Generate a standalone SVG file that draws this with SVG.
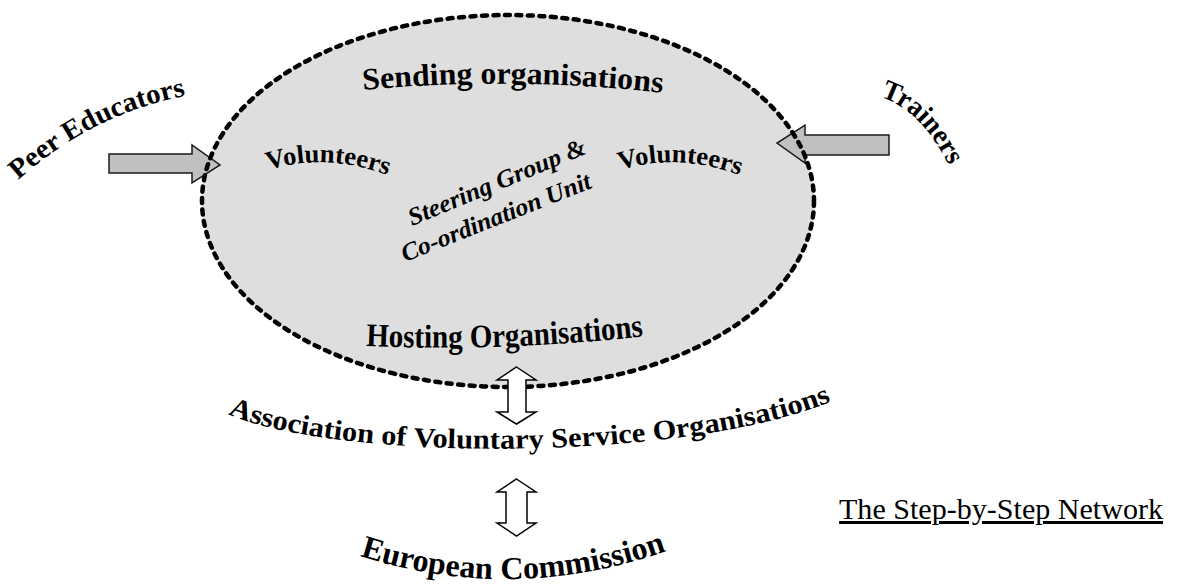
<svg xmlns="http://www.w3.org/2000/svg" xmlns:xlink="http://www.w3.org/1999/xlink" width="1178" height="587" viewBox="0 0 1178 587">
<style>
.wa{font-family:"Liberation Serif","DejaVu Serif",serif;font-weight:bold;fill:#000}
.it{font-family:"Liberation Serif","DejaVu Serif",serif;font-weight:bold;font-style:italic;fill:#000}
.blk{fill:#C0C0C0;stroke:#1a1a1a;stroke-width:1.5;stroke-linejoin:miter}
.dbl{fill:#fff;stroke:#000;stroke-width:1.5}
.title{font-family:"Liberation Serif","Times New Roman",serif;font-size:30px;fill:#000;text-decoration:underline}
</style>
<defs>
<path id="pPeer" d="M 18,180 Q 95,112 190,95"/>
<path id="pTrain" d="M 880,97 Q 922,110 950,168"/>
<path id="pSend" d="M 363,90 Q 513,76 665,93"/>
<path id="pVolL" d="M 268,170 Q 326,152 390,176"/>
<path id="pVolR" d="M 620,170 Q 678,152 742,176"/>
<path id="pHost" d="M 366,346 Q 505,352 646,336"/>
<path id="pAssoc" d="M 228,414 C 330,460 680,465 835,400"/>
<path id="pEC" d="M 360,556 Q 517,606 675,548"/>
</defs>

<g id="network">
<ellipse cx="508" cy="201" rx="306" ry="186" fill="#DEDEDE"/>
</g>

<g id="connectors">
<polygon class="blk" points="109,154 192,154 192,145 220,165 192,183 192,173 109,173"/>
<polygon class="blk" points="889,135 805,135 805,125 777,143 805,163 805,155 889,155"/>
<ellipse cx="508" cy="201" rx="306" ry="186" fill="none" stroke="#000" stroke-width="4.5" stroke-dasharray="5 6.5" stroke-linecap="round"/>
<polygon class="dbl" points="516.5,367 536,380 526,380 526,412 536,412 516.5,424 497,412 508,412 508,380 497,380"/>
<polygon class="dbl" points="516.5,479 536,492 527,492 527,523 536,523 516.5,536 497,523 506,523 506,492 497,492"/>
</g>

<g id="peer-educators">
<text class="wa" font-size="28"><textPath xlink:href="#pPeer" href="#pPeer" textLength="190" lengthAdjust="spacingAndGlyphs">Peer Educators</textPath></text>
</g>
<g id="trainers">
<text class="wa" font-size="28"><textPath xlink:href="#pTrain" href="#pTrain" textLength="100" lengthAdjust="spacingAndGlyphs">Trainers</textPath></text>
</g>
<g id="sending">
<text class="wa" font-size="31"><textPath xlink:href="#pSend" href="#pSend" textLength="300" lengthAdjust="spacingAndGlyphs">Sending organisations</textPath></text>
</g>
<g id="volunteers-left">
<text class="wa" font-size="26"><textPath xlink:href="#pVolL" href="#pVolL" textLength="122" lengthAdjust="spacingAndGlyphs">Volunteers</textPath></text>
</g>
<g id="volunteers-right">
<text class="wa" font-size="26"><textPath xlink:href="#pVolR" href="#pVolR" textLength="122" lengthAdjust="spacingAndGlyphs">Volunteers</textPath></text>
</g>
<g id="steering">
<text class="it" font-size="25" transform="translate(412,226) rotate(-22.5)" textLength="190" lengthAdjust="spacingAndGlyphs">Steering Group &amp;</text>
<text class="it" font-size="25" transform="translate(405,262) rotate(-21.6)" textLength="202" lengthAdjust="spacingAndGlyphs">Co-ordination Unit</text>
</g>
<g id="hosting">
<text class="wa" font-size="33"><textPath xlink:href="#pHost" href="#pHost" textLength="278" lengthAdjust="spacingAndGlyphs">Hosting Organisations</textPath></text>
</g>
<g id="association">
<text class="wa" font-size="28"><textPath xlink:href="#pAssoc" href="#pAssoc" textLength="612" lengthAdjust="spacingAndGlyphs">Association of Voluntary Service Organisations</textPath></text>
</g>
<g id="european-commission">
<text class="wa" font-size="32"><textPath xlink:href="#pEC" href="#pEC" textLength="312" lengthAdjust="spacingAndGlyphs">European Commission</textPath></text>
</g>
<g id="caption">
<text class="title" x="839" y="519" textLength="324" lengthAdjust="spacingAndGlyphs">The Step-by-Step Network</text>
</g>
</svg>
